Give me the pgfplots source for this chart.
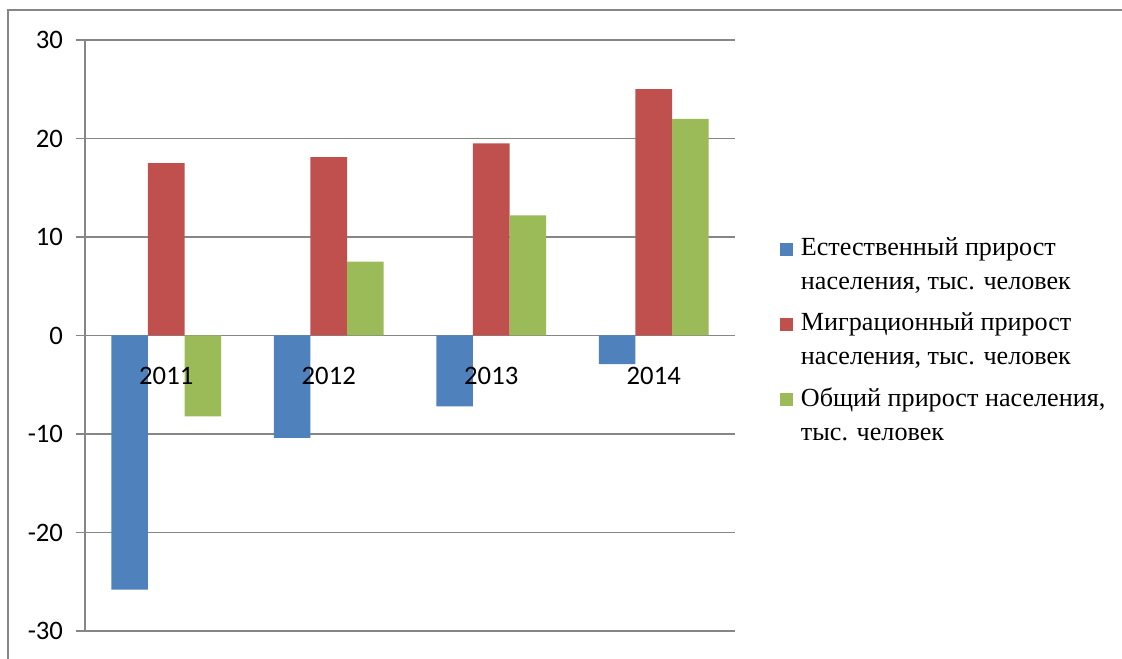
\documentclass[border=0pt]{standalone}
\usepackage{fontspec}
\setmainfont{Liberation Serif}
\newfontfamily\calibri{Carlito}
\usepackage{pgfplots}
\pgfplotsset{compat=1.18}
\definecolor{cblue}{HTML}{4F81BD}
\definecolor{cred}{HTML}{C0504D}
\definecolor{cgreen}{HTML}{9BBB59}
\definecolor{axgray}{HTML}{868686}
\begin{document}
\begin{tikzpicture}
\useasboundingbox (0,0) rectangle (841.5pt,494.25pt);
\draw[color=axgray, line width=1.6pt] (6pt,-2pt) -- (6pt,486.75pt) -- (845pt,486.75pt);
\begin{axis}[
  at={(63.75pt,21pt)}, anchor=south west,
  scale only axis,
  width=487.5pt, height=443.25pt,
  ybar=0pt, bar width=27.4pt,
  xmin=0.5, xmax=4.5,
  ymin=-30, ymax=30,
  ytick={-30,-20,...,30},
  axis y line=left,
  axis x line=middle,
  hide obscured y ticks=false,
  hide obscured x ticks=false,
  axis line style={-, color=axgray, line width=1.2pt},
  xtick={1,2,3,4},
  xticklabels={},
  minor xtick={0.5,1.5,2.5,3.5,4.5},
  xtick align=outside, ytick align=outside,
  major tick length=7pt,
  x tick style={draw=none},
  minor x tick style={color=axgray, line width=1.2pt},
  minor tick length=6pt,
  y tick style={color=axgray, line width=1.2pt},
  ymajorgrids,
  grid style={color=axgray, line width=1pt},
  /pgf/number format/assume math mode=true,
  ticklabel style={font=\calibri\fontsize{20}{24}\selectfont, text=black},
  yticklabel style={xshift=-6pt},
  legend style={
    at={(1.0692,0.675)}, anchor=north west,
    draw=none, fill=none,
    font=\fontsize{19.6}{25.3}\selectfont,
    cells={anchor=west, align=left},
    row sep=12pt,
    inner xsep=0pt,
  },
  legend image code/.code={\fill[#1,draw=none] (0pt,6.5pt) rectangle (9.5pt,16pt); \path (13.5pt,6.5pt);},
]
\addplot[fill=cblue, draw=none] coordinates {(1,-25.8) (2,-10.4) (3,-7.2) (4,-2.9)};
\addplot[fill=cred, draw=none] coordinates {(1,17.5) (2,18.1) (3,19.5) (4,25.0)};
\addplot[fill=cgreen, draw=none] coordinates {(1,-8.2) (2,7.5) (3,12.2) (4,22.0)};
\legend{{Естественный прирост\\населения, тыс. человек},{Миграционный прирост\\населения, тыс. человек},{Общий прирост населения,\\тыс. человек}}
\foreach \x/\lab in {1/2011,2/2012,3/2013,4/2014}{
  \edef\temp{\noexpand\node[font=\noexpand\calibri\noexpand\fontsize{20}{24}\noexpand\selectfont, text=black, anchor=center] at (axis cs:\x,-4.1) {\lab};}
  \temp
}
\end{axis}
\end{tikzpicture}
\end{document}
